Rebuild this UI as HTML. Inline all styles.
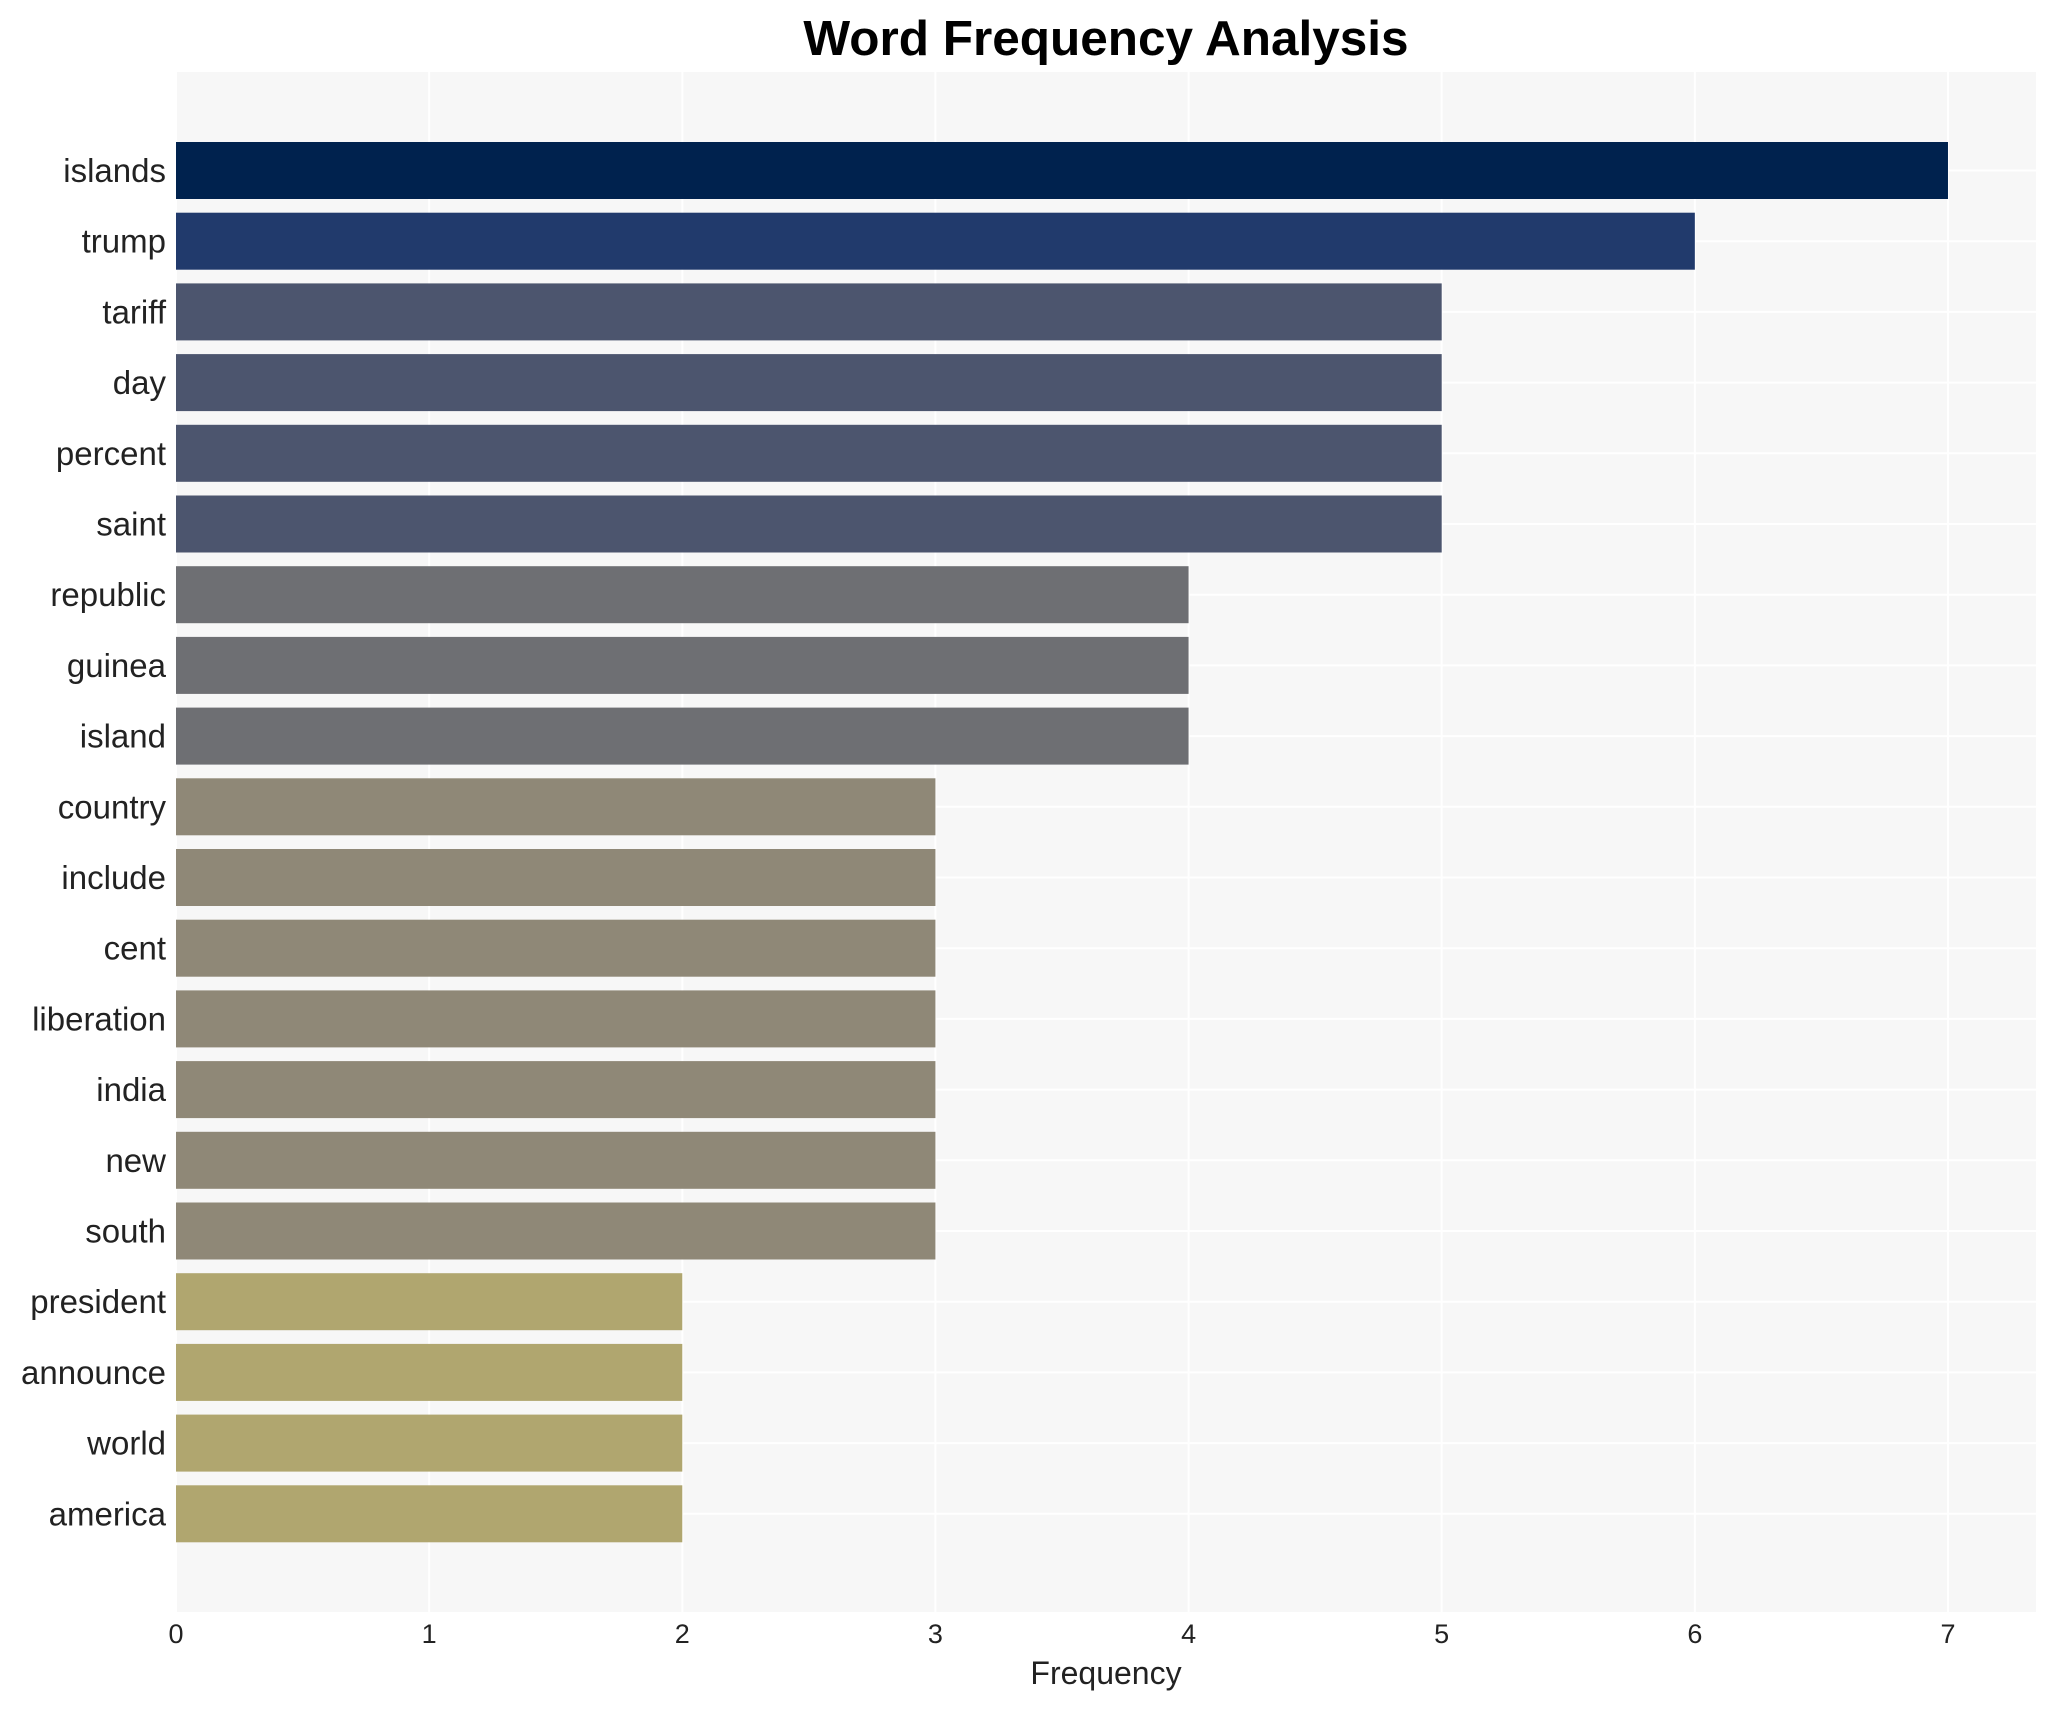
<!DOCTYPE html>
<html><head><meta charset="utf-8"><style>body{margin:0;background:#fff}svg{display:block}</style></head>
<body>
<svg width="2056" height="1710" viewBox="0 0 2056 1710" xmlns="http://www.w3.org/2000/svg" font-family="Liberation Sans, sans-serif">
<rect x="176" y="72" width="1860" height="1540" fill="#f7f7f7"/>
<g stroke="#ffffff" stroke-width="2">
<line x1="176" y1="72" x2="176" y2="1612"/><line x1="429.1" y1="72" x2="429.1" y2="1612"/><line x1="682.3" y1="72" x2="682.3" y2="1612"/><line x1="935.4" y1="72" x2="935.4" y2="1612"/><line x1="1188.6" y1="72" x2="1188.6" y2="1612"/><line x1="1441.7" y1="72" x2="1441.7" y2="1612"/><line x1="1694.9" y1="72" x2="1694.9" y2="1612"/><line x1="1948" y1="72" x2="1948" y2="1612"/>
</g>
<g id="bars"></g>
<g font-size="33" fill="#222" text-anchor="end" id="labels"></g>
<g font-size="27" fill="#222" text-anchor="middle">
<text x="176" y="1643">0</text><text x="429.1" y="1643">1</text><text x="682.3" y="1643">2</text><text x="935.4" y="1643">3</text><text x="1188.6" y="1643">4</text><text x="1441.7" y="1643">5</text><text x="1694.9" y="1643">6</text><text x="1948" y="1643">7</text>
</g>
<text x="1106" y="1684" font-size="32" fill="#222" text-anchor="middle">Frequency</text>
<text x="1106" y="55" font-size="49.5" font-weight="bold" fill="#000" text-anchor="middle">Word Frequency Analysis</text>
<script>
var d=[["islands",7,"#00224e"],["trump",6,"#213a6c"],["tariff",5,"#4c556e"],["day",5,"#4c556e"],["percent",5,"#4c556e"],["saint",5,"#4c556e"],["republic",4,"#6e6f73"],["guinea",4,"#6e6f73"],["island",4,"#6e6f73"],["country",3,"#8f8877"],["include",3,"#8f8877"],["cent",3,"#8f8877"],["liberation",3,"#8f8877"],["india",3,"#8f8877"],["new",3,"#8f8877"],["south",3,"#8f8877"],["president",2,"#b0a66f"],["announce",2,"#b0a66f"],["world",2,"#b0a66f"],["america",2,"#b0a66f"]];
var ns="http://www.w3.org/2000/svg",b=document.getElementById("bars"),l=document.getElementById("labels");
d.forEach(function(r,i){var y=142+i*70.7;
var g=document.createElementNS(ns,"line");g.setAttribute("x1",176);g.setAttribute("x2",2036);g.setAttribute("y1",y+28.5);g.setAttribute("y2",y+28.5);g.setAttribute("stroke","#fff");g.setAttribute("stroke-width",2);b.appendChild(g);
var e=document.createElementNS(ns,"rect");e.setAttribute("x",176);e.setAttribute("y",y);e.setAttribute("width",r[1]*253.14);e.setAttribute("height",57);e.setAttribute("fill",r[2]);b.appendChild(e);
var t=document.createElementNS(ns,"text");t.setAttribute("x",166);t.setAttribute("y",y+40);t.textContent=r[0];l.appendChild(t);});
</script>
</svg>
</body></html>
